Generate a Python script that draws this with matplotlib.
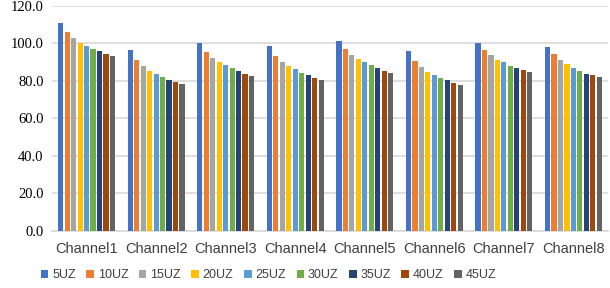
import matplotlib.pyplot as plt
import numpy as np

channels = ['Channel1', 'Channel2', 'Channel3', 'Channel4',
            'Channel5', 'Channel6', 'Channel7', 'Channel8']
series = ['5UZ', '10UZ', '15UZ', '20UZ', '25UZ', '30UZ', '35UZ', '40UZ', '45UZ']
colors = ['#4472C4', '#ED7D31', '#A5A5A5', '#FFC000', '#5B9BD5',
          '#70AD47', '#264478', '#9E480E', '#636363']

# values per channel, one entry per series (5UZ .. 45UZ)
ch1 = [110.9, 106.1, 102.9, 100.3, 98.7, 97.1, 96.0, 94.4, 93.3]
ch2 = [96.5, 91.2, 88.0, 85.3, 83.7, 82.1, 80.5, 79.5, 78.4]
ch3 = [100.3, 95.5, 92.3, 90.1, 88.5, 86.9, 85.3, 83.7, 82.7]
ch4 = [98.7, 93.3, 90.1, 88.0, 86.4, 84.3, 83.2, 81.6, 80.5]
ch5 = [101.3, 97.1, 93.9, 91.7, 90.1, 88.5, 86.9, 85.3, 84.3]
ch6 = [96.0, 90.7, 87.5, 84.8, 83.2, 81.6, 80.5, 78.9, 77.9]
ch7 = [100.3, 96.5, 93.9, 91.2, 90.1, 88.0, 86.9, 85.9, 84.8]
ch8 = [98.1, 94.4, 91.2, 89.1, 86.9, 85.3, 83.7, 83.2, 82.1]

data = np.array([ch1, ch2, ch3, ch4, ch5, ch6, ch7, ch8])

fig = plt.figure(figsize=(6.1, 2.88), dpi=100)
ax = fig.add_axes([0.085, 0.198, 0.912, 0.782])

x = np.arange(len(channels))
pitch = 0.093
width = 0.075
for i, name in enumerate(series):
    ax.bar(x + (i - 4) * pitch, data[:, i], width, color=colors[i], label=name, zorder=3)

ax.set_xlim(-0.5, len(channels) - 0.5)
ax.set_ylim(0, 120)
ax.set_yticks(np.arange(0, 121, 20))
ax.set_yticklabels([f'{v:.1f}' for v in np.arange(0, 121, 20)],
                   fontfamily='Liberation Serif', fontsize=10.5)
ax.set_xticks(x)
ax.set_xticklabels(channels, fontfamily='Liberation Sans', fontsize=10.5, color='#404040')
ax.tick_params(length=0, pad=8)
ax.tick_params(axis='y', pad=6)
ax.grid(axis='y', color='#D9D9D9', linewidth=1.2, zorder=0)
for s in ['top', 'right', 'left']:
    ax.spines[s].set_visible(False)
ax.spines['bottom'].set_color('#D9D9D9')
ax.spines['bottom'].set_linewidth(1.2)

leg = fig.legend(loc='lower center', bbox_to_anchor=(0.44, -0.015), ncol=9, frameon=False,
                 handlelength=0.6, handleheight=0.6, handletextpad=0.3, columnspacing=0.85,
                 prop={'family': 'Liberation Sans', 'size': 9})
for t in leg.get_texts():
    t.set_color('#404040')

fig.savefig('out.png', dpi=100)
